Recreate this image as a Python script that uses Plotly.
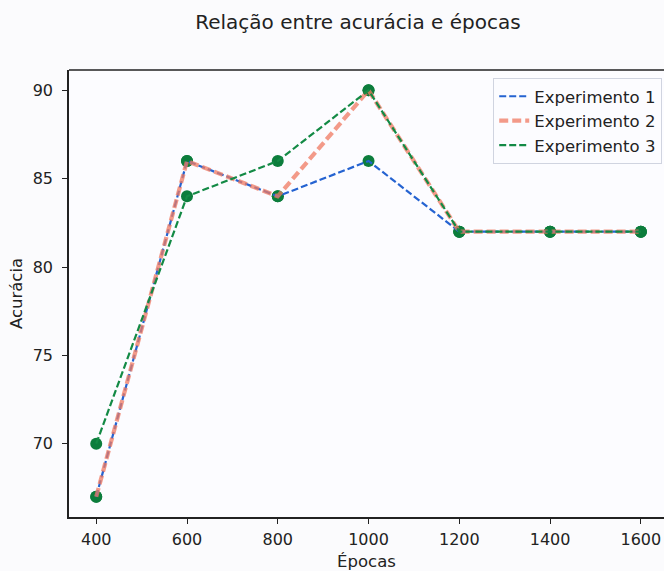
import plotly.graph_objects as go

epocas = [400, 600, 800, 1000, 1200, 1400, 1600]
exp1 = [67, 86, 84, 86, 82, 82, 82]
exp2 = [67, 86, 84, 90, 82, 82, 82]
exp3 = [70, 84, 86, 90, 82, 82, 82]
nomes = ["Experimento 1", "Experimento 2", "Experimento 3"]
y_ticks = [70, 75, 80, 85, 90]
x_ticks = [400, 600, 800, 1000, 1200, 1400, 1600]

marker_color = "#0c7d3c"
fig = go.Figure()

for s in [exp1, exp2, exp3]:
    fig.add_trace(go.Scatter(x=epocas, y=s, mode="markers", showlegend=False,
                             marker=dict(color=marker_color, size=12, line=dict(width=0)),
                             hoverinfo="skip"))

fig.add_trace(go.Scatter(x=epocas, y=exp1, mode="lines", name=nomes[0],
                         line=dict(color="#2563d1", width=2.2, dash="7px,3px")))
fig.add_trace(go.Scatter(x=epocas, y=exp2, mode="lines", name=nomes[1], opacity=0.75,
                         line=dict(color="#f07a62", width=4.2, dash="9px,4px")))
fig.add_trace(go.Scatter(x=epocas, y=exp3, mode="lines", name=nomes[2],
                         line=dict(color="#138a45", width=2.2, dash="7px,3px")))

font = "DejaVu Sans, Verdana, sans-serif"
fig.update_layout(
    width=664, height=571,
    margin=dict(l=69, r=0, t=70, b=54),
    paper_bgcolor="#fbfbfd", plot_bgcolor="#fcfcff",
    font=dict(family=font, size=16, color="#222222"),
    title=dict(text="Relação entre acurácia e épocas", x=0.539, xanchor="center",
               y=0.962, yanchor="middle", font=dict(size=20, color="#222222")),
    showlegend=True,
    legend=dict(x=0.997, xanchor="right", y=0.982, yanchor="top",
                bgcolor="rgba(252,252,255,0.9)", bordercolor="#d0d4e0", borderwidth=1,
                font=dict(size=16.5, color="#222222"), tracegroupgap=0, itemwidth=30),
    shapes=[dict(type="line", xref="paper", yref="paper", x0=0, x1=1, y0=1, y1=1,
                 line=dict(color="#222222", width=1.6))],
)
fig.update_xaxes(range=[340, 1651], tickvals=x_ticks, ticks="outside", ticklen=5,
                 tickcolor="#222222", showline=True, linecolor="#222222", linewidth=1.6,
                 showgrid=False, zeroline=False, ticklabelstandoff=2,
                 title=dict(text="Épocas", standoff=10, font=dict(size=16.5)))
fig.update_yaxes(range=[65.85, 91.15], tickvals=y_ticks, ticks="outside", ticklen=5,
                 tickcolor="#222222", showline=True, linecolor="#222222", linewidth=1.6,
                 showgrid=False, zeroline=False, ticklabelstandoff=6,
                 title=dict(text="Acurácia", standoff=6, font=dict(size=16.5)))

fig.write_html("out.html", config={"displayModeBar": False},
               post_script="document.body.style.margin='0';document.body.style.overflow='hidden';")
